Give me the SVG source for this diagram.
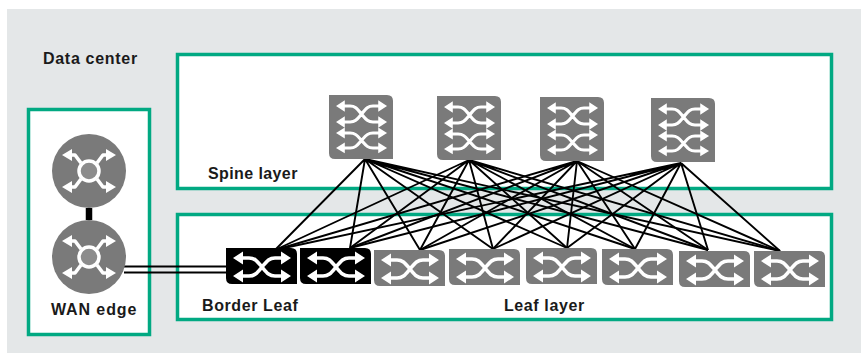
<svg xmlns="http://www.w3.org/2000/svg" width="861" height="353" viewBox="0 0 861 353">
<style>
text{font-family:"Liberation Sans",Arial,sans-serif;font-weight:bold;font-size:16px;fill:#1a1a1a}
.box{fill:#fff;stroke:#01a982;stroke-width:3.500}
.w{fill:none;stroke:#fff;stroke-width:3.600;stroke-linejoin:round}
.h{fill:#fff}
.lk{stroke:#000;stroke-width:1.900;fill:none}
.g{fill:#7a7a7a}
.k{fill:#000}
</style>
<defs>
<g id="cross">
<path class="w" d="M9 0H16C22 0 24 3 29 9C34 15 36 18 42 18H49M9 18H16C22 18 24 15 29 9C34 3 36 0 42 0H49"/>
<path class="h" d="M0 0L10-6.500V6.500ZM0 18L10 11.500V24.500ZM58 0L48-6.500V6.500ZM58 18L48 11.500V24.500Z"/>
</g>
<g id="leaf-g"><path class="g" d="M0 0H65Q71 0 71 6V36H6Q0 36 0 30Z"/><use href="#cross" x="7" y="10"/></g>
<g id="leaf-k"><path class="k" d="M0 0H65Q71 0 71 6V36H6Q0 36 0 30Z"/><use href="#cross" x="7" y="10"/></g>
<g id="spine"><path class="g" d="M0 0H58Q64 0 64 6V64H6Q0 64 0 58Z"/>
<g transform="translate(7 11) scale(.88 .89)"><use href="#cross"/></g>
<g transform="translate(7 38) scale(.88 .83)"><use href="#cross"/></g></g>
<g id="router"><circle r="37" class="g"/><circle r="10" fill="#8c8c8c" stroke="#fff" stroke-width="3.500"/>
<path class="w" d="M-8-8L-14-16H-20M8-8L14-16H20M-8 8L-14 16H-20M8 8L14 16H20"/>
<path class="h" d="M-27-16L-17-22V-10ZM27-16L17-22V-10ZM-27 16L-17 10V22ZM27 16L17 10V22Z"/></g>
</defs>
<rect id="panel" x="7" y="9" width="854" height="344" fill="#e4e7e8"/>
<rect class="box" x="28.500" y="109.500" width="121" height="225"/>
<rect class="box" x="177.500" y="54.500" width="654" height="134"/>
<rect class="box" x="177.500" y="214.500" width="654" height="105"/>
<text x="43" y="64" letter-spacing=".7">Data center</text>
<g id="connectors">
<g class="lk">
<path d="M365 159L275 250M365 159L350 248M365 159L420 250M365 159L493 249M365 159L567 248M365 159L635 249M365 159L708 250M365 159L780 251"/>
<path d="M469 160L275 250M469 160L350 248M469 160L420 250M469 160L493 249M469 160L567 248M469 160L635 249M469 160L708 250M469 160L780 251"/>
<path d="M577 161L275 250M577 161L350 248M577 161L420 250M577 161L493 249M577 161L567 248M577 161L635 249M577 161L708 250M577 161L780 251"/>
<path d="M681 163L275 250M681 163L350 248M681 163L420 250M681 163L493 249M681 163L567 248M681 163L635 249M681 163L708 250M681 163L780 251"/>
</g>
<path d="M89 208V220" stroke="#000" stroke-width="6.500" fill="none"/>
<path d="M124 266.500H226M124 272.500H226" stroke="#000" stroke-width="2" fill="none"/>
</g>
<g id="spine1"><use href="#spine" x="329" y="95"/></g>
<g id="spine2"><use href="#spine" x="437" y="96"/></g>
<g id="spine3"><use href="#spine" x="540" y="97"/></g>
<g id="spine4"><use href="#spine" x="651" y="98"/></g>
<g id="router1"><use href="#router" x="89" y="171"/></g>
<g id="router2"><use href="#router" x="89" y="257"/></g>
<g id="leaf1"><use href="#leaf-k" x="226" y="248"/></g>
<g id="leaf2"><use href="#leaf-k" x="300" y="248"/></g>
<g id="leaf3"><use href="#leaf-g" x="374" y="250"/></g>
<g id="leaf4"><use href="#leaf-g" x="449" y="249"/></g>
<g id="leaf5"><use href="#leaf-g" x="526" y="248"/></g>
<g id="leaf6"><use href="#leaf-g" x="602" y="249"/></g>
<g id="leaf7"><use href="#leaf-g" x="679" y="251"/></g>
<g id="leaf8"><use href="#leaf-g" x="754" y="251"/></g>
<text x="208" y="179" letter-spacing=".4">Spine layer</text>
<text x="51" y="315" letter-spacing=".9">WAN edge</text>
<text x="202" y="311" letter-spacing=".6">Border Leaf</text>
<text x="504" y="311" letter-spacing=".6">Leaf layer</text>
</svg>
